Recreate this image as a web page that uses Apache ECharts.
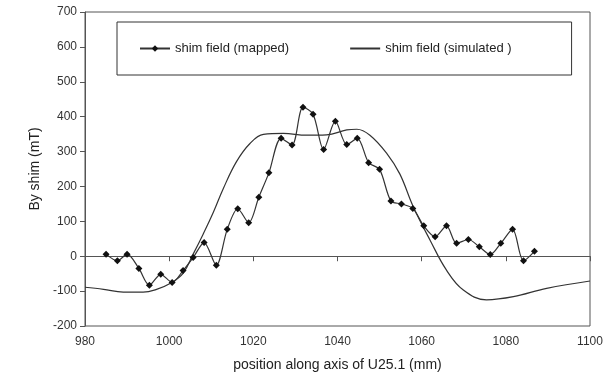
<!DOCTYPE html>
<html>
<head>
<meta charset="utf-8">
<script src="https://cdn.jsdelivr.net/npm/echarts@6/dist/echarts.min.js"></script>
<style>
  html, body { margin: 0; padding: 0; background: #fff; }
  #chart { width: 606px; height: 387px; }
</style>
</head>
<body>
<div id="chart"></div>
<script>
// mapped shim field: position (mm), By (mT)
var mappedX = [985, 987.7, 990, 992.8, 995.3, 998, 1000.7, 1003.3, 1005.7, 1008.3,
  1011.2, 1013.8, 1016.3, 1018.9, 1021.3, 1023.7, 1026.6, 1029.2, 1031.8, 1034.2,
  1036.7, 1039.5, 1042.2, 1044.7, 1047.4, 1050, 1052.7, 1055.2, 1057.9, 1060.5,
  1063.2, 1065.9, 1068.3, 1071.1, 1073.7, 1076.3, 1078.8, 1081.6, 1084.2, 1086.8]
var mappedY = [6, -13, 6, -35, -83, -52, -75, -41, -4, 39,
  -26, 77, 136, 96, 169, 239, 338, 319, 427, 407,
  306, 387, 320, 338, 268, 249, 158, 150, 137, 87,
  56, 87, 37, 48, 27, 5, 37, 77, -13, 14]

// simulated shim field
var simX = [980, 984.4, 989.1, 993.8, 997, 1000.2, 1003.3, 1005.7, 1008.1, 1010.5,
  1012.9, 1016, 1019.2, 1022.4, 1027.1, 1032.7, 1037.4, 1042.2, 1044.6, 1047.7,
  1051.7, 1054.8, 1058, 1062, 1065.9, 1069.9, 1075.4, 1081.8, 1089.7, 1100]
var simY = [-89, -95, -103, -103, -95, -78, -49, 6, 64, 126,
  195, 271, 323, 349, 352, 347, 348, 362, 364, 347,
  295, 236, 142, 46, -40, -97, -125, -116, -92, -71]

var xTicks = [980, 1000, 1020, 1040, 1060, 1080, 1100]
var yTicks = [-200, -100, 0, 100, 200, 300, 400, 500, 600, 700]

function pairs(xs, ys) {
  return xs.map(function (x, i) { return [x, ys[i]] })
}

var font = 'Liberation Sans'
var chart = echarts.init(document.getElementById('chart'))
chart.setOption({
  backgroundColor: '#fff',
  animation: false,
  textStyle: { fontFamily: font },
  grid: {
    left: 85, right: 16, top: 12, bottom: 61,
    show: true, borderColor: '#555', borderWidth: 1, backgroundColor: 'transparent'
  },
  legend: {
    left: 117, top: 22,
    padding: [20, 60, 20, 22],
    borderColor: '#333', borderWidth: 1,
    backgroundColor: '#fff',
    itemWidth: 30, itemHeight: 8, itemGap: 60,
    textStyle: { fontFamily: font, fontSize: 13, color: '#222' },
    data: [
      { name: 'shim field (mapped)' },
      { name: 'shim field (simulated )', itemStyle: { color: 'transparent', borderColor: 'transparent', borderWidth: 0 } }
    ]
  },
  xAxis: {
    type: 'value',
    min: xTicks[0], max: xTicks[xTicks.length - 1], interval: 20,
    name: 'position along axis of U25.1 (mm)',
    nameLocation: 'middle', nameGap: 32,
    nameTextStyle: { fontFamily: font, fontSize: 14, color: '#222' },
    axisLine: { lineStyle: { color: '#555', width: 1 } },
    axisTick: { inside: false, length: 5, lineStyle: { color: '#555' } },
    axisLabel: {
      fontFamily: font, fontSize: 12, color: '#333', margin: 10,
      formatter: function (v) { return String(v) }
    },
    splitLine: { show: false }
  },
  yAxis: {
    type: 'value',
    min: yTicks[0], max: yTicks[yTicks.length - 1], interval: 100,
    name: 'By shim (mT)',
    nameLocation: 'middle', nameGap: 40, nameRotate: 90,
    nameTextStyle: { fontFamily: font, fontSize: 14, color: '#222' },
    axisLine: { show: true, lineStyle: { color: '#555', width: 1 } },
    axisTick: { show: true, inside: false, length: 5, lineStyle: { color: '#555' } },
    axisLabel: { fontFamily: font, fontSize: 12, color: '#333', margin: 8 },
    splitLine: { show: false }
  },
  series: [
    {
      name: 'shim field (mapped)',
      type: 'line',
      data: pairs(mappedX, mappedY),
      smooth: 0.3,
      symbol: 'diamond',
      symbolSize: 7,
      showAllSymbol: true,
      lineStyle: { color: '#333', width: 1.2 },
      itemStyle: { color: '#111' }
    },
    {
      name: 'shim field (simulated )',
      type: 'line',
      data: pairs(simX, simY),
      smooth: 0.4,
      symbol: 'none',
      lineStyle: { color: '#333', width: 1.2 },
      itemStyle: { color: '#333' }
    }
  ]
})
</script>
</body>
</html>
